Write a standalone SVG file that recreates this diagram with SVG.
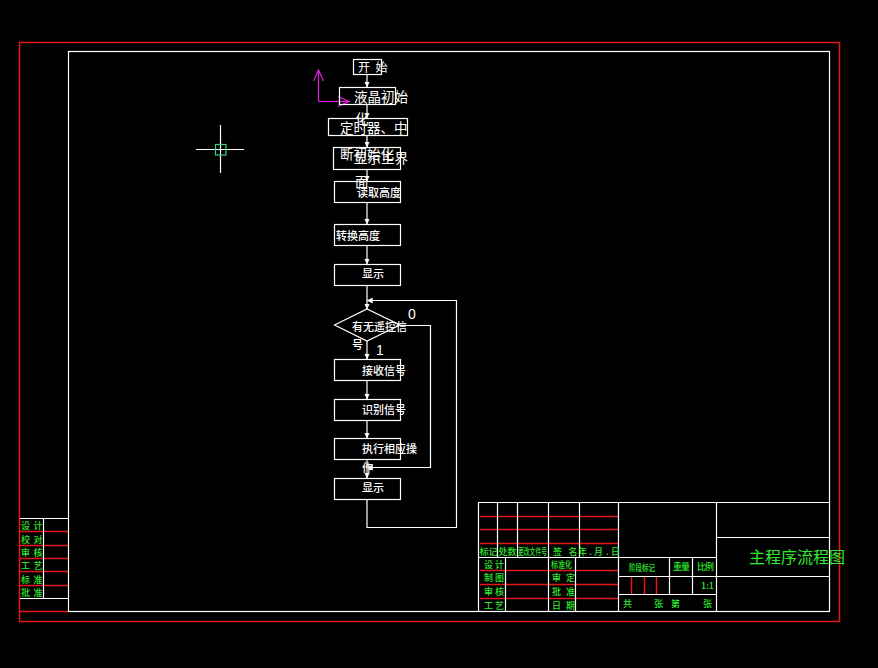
<svg xmlns="http://www.w3.org/2000/svg" width="878" height="668" viewBox="0 0 878 668">
<style>
.w{stroke:#fff;stroke-width:1.2;fill:none}
.r{stroke:#e01818;stroke-width:1.5;fill:none}
.c{stroke:#fff;stroke-width:1.2;fill:none}
.t{fill:#fff;font-family:"Noto Sans CJK SC","Noto Sans",sans-serif;font-size:11px;font-weight:500}
.b{font-size:13.500px;font-weight:400}
.g{fill:#2fe82f;font-family:"Noto Sans CJK SC","Noto Sans",sans-serif;font-size:9px;font-weight:500}
.d{font-family:"Liberation Sans",sans-serif;font-size:14px;fill:#fff}
</style>
<defs>
<marker id="a" viewBox="0 0 6 6" refX="5.500" refY="3" markerWidth="6" markerHeight="6" orient="auto" markerUnits="userSpaceOnUse"><path d="M0 .5L5.500 3L0 5.500Z" fill="#fff" stroke="#fff" stroke-width=".5"/></marker>
<marker id="m" viewBox="0 0 12 12" refX="11" refY="6" markerWidth="12" markerHeight="12" orient="auto" markerUnits="userSpaceOnUse"><path d="M0 1L11 6L0 11" fill="none" stroke="#e020e0" stroke-width="1.200"/></marker>
</defs>
<rect width="878" height="668" fill="#000"/>
<g id="frame">
<rect class="r" x="19.500" y="42.500" width="820" height="579"/>
<rect class="w" x="68.500" y="51.500" width="761" height="560"/>
<path class="r" d="M19 611.500H68"/>
</g>
<g id="cursor">
<path class="w" d="M196 149.500H244M220.500 125V173"/>
<rect x="215.500" y="144.500" width="10.500" height="10.500" fill="none" stroke="#3fd080" stroke-width="1.200"/>
</g>
<g id="ucs">
<path d="M318.500 101.500V70" fill="none" stroke="#e020e0" stroke-width="1.200" marker-end="url(#m)"/>
<path d="M318.500 101.500H349" fill="none" stroke="#e020e0" stroke-width="1.200" marker-end="url(#m)"/>
</g>
<g id="connectors">
<path class="c" d="M367 75V87" marker-end="url(#a)"/>
<path class="c" d="M367 104V118" marker-end="url(#a)"/>
<path class="c" d="M367 136V147" marker-end="url(#a)"/>
<path class="c" d="M367 169V181" marker-end="url(#a)"/>
<path class="c" d="M367 203V224" marker-end="url(#a)"/>
<path class="c" d="M367 245V264" marker-end="url(#a)"/>
<path class="c" d="M367 285V309" marker-end="url(#a)"/>
<path class="c" d="M367 341V359" marker-end="url(#a)"/>
<path class="c" d="M367 381V399" marker-end="url(#a)"/>
<path class="c" d="M367 421V438" marker-end="url(#a)"/>
<path class="c" d="M367 459V478" marker-end="url(#a)"/>
<path class="c" d="M367 499V527.500H456.500V300.500H367" marker-end="url(#a)"/>
<path class="c" d="M400 325.500H430.500V467.500H367" marker-end="url(#a)"/>
</g>
<g id="n-start"><rect class="w" x="353.500" y="59.500" width="28" height="15"/><text class="t" style="font-size:12px;font-weight:400" x="358" y="71.500" xml:space="preserve">开  始</text></g>
<g id="n-lcd"><rect class="w" x="339.500" y="87.500" width="56" height="17"/><text class="t b" x="354" y="102">液晶初始</text><text class="t b" x="355" y="124">化</text></g>
<g id="n-timer"><rect class="w" x="328.500" y="118.500" width="79" height="17"/><text class="t b" x="340" y="133">定时器、中</text><text class="t b" x="340" y="159">断初始化</text></g>
<g id="n-ui"><rect class="w" x="333.500" y="147.500" width="67" height="22"/><text class="t b" x="354" y="163">显示主界</text><text class="t b" x="355" y="187">面</text></g>
<g id="n-read"><rect class="w" x="334.500" y="181.500" width="66" height="21"/><text class="t" x="357" y="197">读取高度</text></g>
<g id="n-conv"><rect class="w" x="334.500" y="224.500" width="66" height="21"/><text class="t" x="336" y="240">转换高度</text></g>
<g id="n-show1"><rect class="w" x="334.500" y="264.500" width="66" height="21"/><text class="t" x="362" y="278">显示</text></g>
<g id="n-dec"><path class="c" d="M334.500 325L367 309L400 325L367 341Z"/><text class="t" x="352" y="331">有无遥控信</text><text class="t" x="352" y="349">号</text><text class="d" x="408" y="319">0</text><text class="d" x="376" y="355">1</text></g>
<g id="n-recv"><rect class="w" x="334.500" y="359.500" width="66" height="21"/><text class="t" x="362" y="375">接收信号</text></g>
<g id="n-id"><rect class="w" x="334.500" y="399.500" width="66" height="21"/><text class="t" x="362" y="414">识别信号</text></g>
<g id="n-exec"><rect class="w" x="334.500" y="438.500" width="66" height="21"/><text class="t" x="362" y="453">执行相应操</text><text class="t" x="362" y="472">作</text></g>
<g id="n-show2"><rect class="w" x="334.500" y="478.500" width="66" height="21"/><text class="t" x="362" y="492">显示</text></g>
<g id="left-table">
<path class="r" d="M20 531.500H68M20 545.500H68M20 558.500H68M20 571.500H68M20 585.500H68"/>
<path class="w" d="M20 518.500H68M43.500 518V598M20 598.500H68"/>
<g class="g"><text x="21" y="529">设</text><text x="33.500" y="529">计</text><text x="21" y="543">校</text><text x="33.500" y="543">对</text><text x="21" y="556">审</text><text x="33.500" y="556">核</text><text x="21" y="569">工</text><text x="33.500" y="569">艺</text><text x="21" y="583">标</text><text x="33.500" y="583">准</text><text x="21" y="596">批</text><text x="33.500" y="596">准</text></g>
</g>
<g id="title-block">
<path class="r" d="M480 516.500H618M480 529.500H618M480 543.500H618M480 570.500H618M480 584.500H618M480 598.500H618M631.500 576V594M644.500 576V594M656.500 576V594"/>
<path class="w" d="M478 502.500H829M478.500 502V611M497.500 502V557M517.500 502V557M548.500 502V611M579.500 502V557M618.500 502V611M716.500 502V611M478 557.500H716M505.500 557V611M575.500 557V611M618 576.500H829M618 594.500H716M669.500 557V594M692.500 557V594M716 537.500H829"/>
<g class="g">
<text x="479.500" y="555">标</text><text x="488.500" y="555">记</text><text x="498.500" y="555">处</text><text x="507.500" y="555">数</text><text x="518" y="555" textLength="29" lengthAdjust="spacingAndGlyphs">更改文件号</text><text x="553" y="555">签</text><text x="568.500" y="555">名</text><text x="578" y="555">年</text><text x="589" y="555">.</text><text x="594" y="555">月</text><text x="606" y="555">.</text><text x="611" y="555">日</text>
<text x="484" y="568">设</text><text x="495" y="568">计</text><text x="484" y="581">制</text><text x="495" y="581">图</text><text x="484" y="595">审</text><text x="495" y="595">核</text><text x="484" y="609">工</text><text x="495" y="609">艺</text>
<text x="551" y="568" textLength="21" lengthAdjust="spacingAndGlyphs">标准化</text><text x="552" y="581">审</text><text x="566" y="581">定</text><text x="552" y="595">批</text><text x="566" y="595">准</text><text x="552" y="609">日</text><text x="566" y="609">期</text>
<text x="629" y="571" textLength="26" lengthAdjust="spacingAndGlyphs">阶段标记</text><text x="673" y="570">重</text><text x="681" y="570">量</text><text x="697" y="570">比</text><text x="705" y="570">例</text>
<text x="701" y="589">1:1</text>
<text x="623" y="607">共</text><text x="654" y="607">张</text><text x="671" y="607">第</text><text x="703" y="607">张</text>
</g>
<text x="749" y="563" style="fill:#2fe82f;font-family:'Noto Sans CJK SC',sans-serif;font-size:16px">主程序流程图</text>
</g>
</svg>
